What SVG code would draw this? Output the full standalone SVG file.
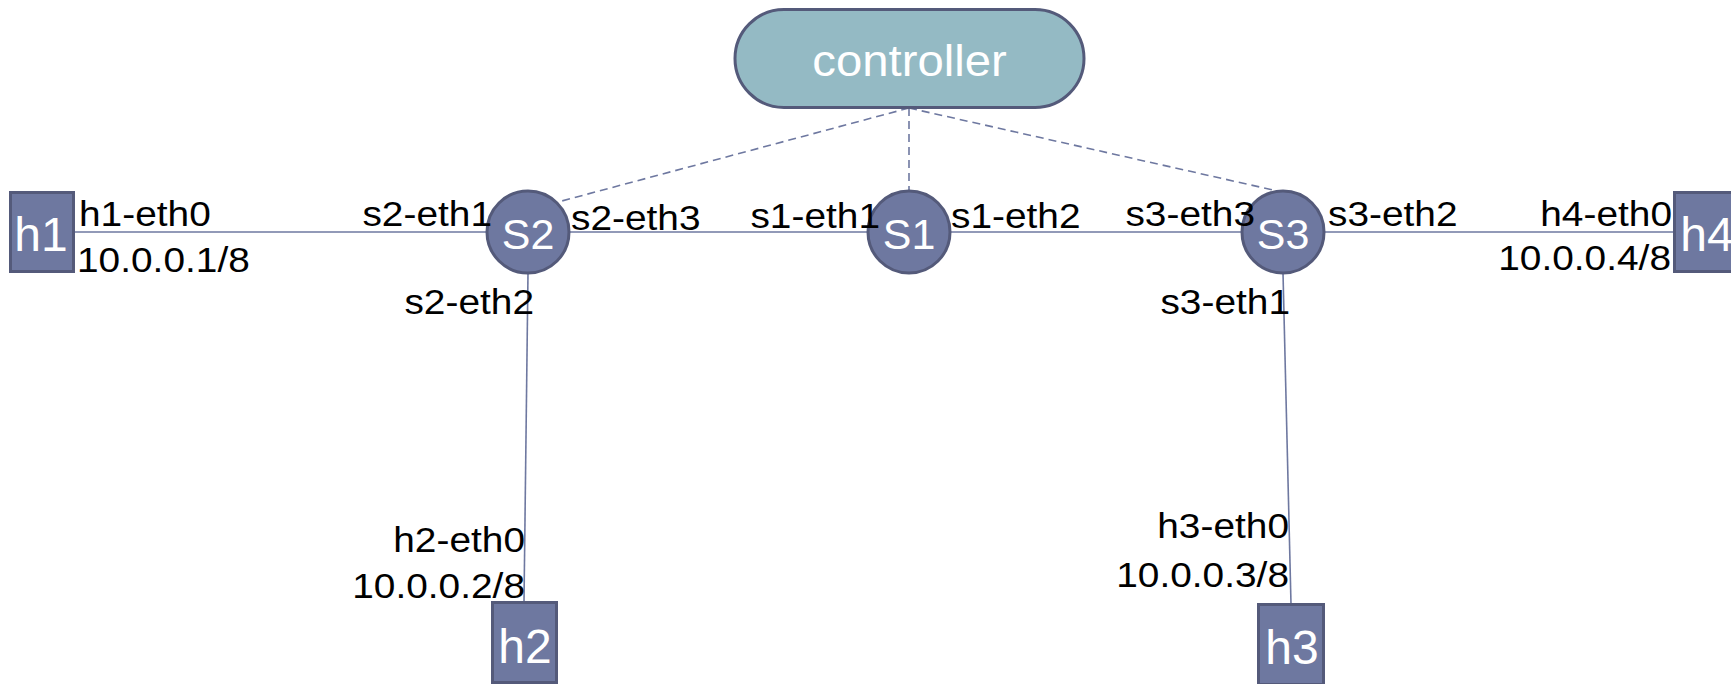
<svg xmlns="http://www.w3.org/2000/svg" width="1731" height="684" viewBox="0 0 1731 684">
<style>
.node{fill:#6e78a0;stroke:#545a7a;stroke-width:3}
.ctrl{fill:#94bac4;stroke:#545a7a;stroke-width:3}
.link{stroke:#6e78a0;stroke-width:1.6;fill:none}
.dash{stroke:#6e78a0;stroke-width:1.6;fill:none;stroke-dasharray:8 5}
.w{fill:#ffffff;font-family:"Liberation Sans",Arial,sans-serif;text-anchor:middle}
.lbl{fill:#000000;font-family:"Liberation Sans",Arial,sans-serif;font-size:35px}
.e{text-anchor:end}
</style>
<rect width="1731" height="684" fill="#ffffff"/>
<g id="connectors">
<line class="dash" x1="909" y1="108" x2="558" y2="202"/>
<line class="dash" x1="909" y1="108" x2="909" y2="191"/>
<line class="dash" x1="909" y1="108" x2="1282" y2="192"/>
<line class="link" x1="74" y1="232" x2="487" y2="232"/>
<line class="link" x1="569" y1="232" x2="868" y2="232"/>
<line class="link" x1="950" y1="232" x2="1242" y2="232"/>
<line class="link" x1="1324" y1="232" x2="1674" y2="232"/>
<line class="link" x1="528" y1="273" x2="524" y2="602"/>
<line class="link" x1="1283" y1="273" x2="1291" y2="604"/>
</g>
<g id="controller">
<rect class="ctrl" x="735" y="9.5" width="349" height="98" rx="49"/>
<text class="w" font-size="45" transform="translate(909.5 76) scale(1.05 1)">controller</text>
</g>
<g id="S1">
<circle class="node" cx="909" cy="232" r="41"/>
<text class="w" font-size="43" transform="translate(909 249)">S1</text>
</g>
<g id="S2">
<circle class="node" cx="528" cy="232" r="41"/>
<text class="w" font-size="43" transform="translate(528 249)">S2</text>
</g>
<g id="S3">
<circle class="node" cx="1283" cy="232" r="41"/>
<text class="w" font-size="43" transform="translate(1283 249)">S3</text>
</g>
<g id="h1">
<rect class="node" x="10.5" y="192.5" width="63" height="79"/>
<text class="w" font-size="48" x="41" y="251">h1</text>
</g>
<g id="h2">
<rect class="node" x="492.5" y="602.5" width="64" height="80"/>
<text class="w" font-size="48" x="525" y="663">h2</text>
</g>
<g id="h3">
<rect class="node" x="1258.5" y="604.5" width="65" height="80"/>
<text class="w" font-size="48" x="1292" y="664">h3</text>
</g>
<g id="h4">
<rect class="node" x="1674.5" y="192.5" width="64" height="79"/>
<text class="w" font-size="48" x="1707" y="251">h4</text>
</g>
<g id="labels">
<text class="lbl" transform="translate(79 226) scale(1.11 1)">h1-eth0</text>
<text class="lbl" transform="translate(77 272) scale(1.11 1)">10.0.0.1/8</text>
<text class="lbl e" transform="translate(492 226) scale(1.11 1)">s2-eth1</text>
<text class="lbl" transform="translate(571 230) scale(1.11 1)">s2-eth3</text>
<text class="lbl e" transform="translate(534 314) scale(1.11 1)">s2-eth2</text>
<text class="lbl e" transform="translate(880 228) scale(1.11 1)">s1-eth1</text>
<text class="lbl" transform="translate(951 228) scale(1.11 1)">s1-eth2</text>
<text class="lbl e" transform="translate(1255 226) scale(1.11 1)">s3-eth3</text>
<text class="lbl" transform="translate(1328 226) scale(1.11 1)">s3-eth2</text>
<text class="lbl e" transform="translate(1290 314) scale(1.11 1)">s3-eth1</text>
<text class="lbl e" transform="translate(1672 226) scale(1.11 1)">h4-eth0</text>
<text class="lbl e" transform="translate(1671 270) scale(1.11 1)">10.0.0.4/8</text>
<text class="lbl e" transform="translate(525 552) scale(1.11 1)">h2-eth0</text>
<text class="lbl e" transform="translate(525 598) scale(1.11 1)">10.0.0.2/8</text>
<text class="lbl e" transform="translate(1289 538) scale(1.11 1)">h3-eth0</text>
<text class="lbl e" transform="translate(1289 587) scale(1.11 1)">10.0.0.3/8</text>
</g>
</svg>
